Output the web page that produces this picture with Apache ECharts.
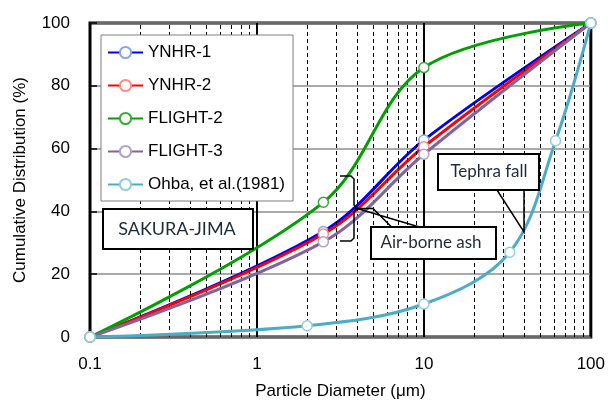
<!DOCTYPE html>
<html>
<head>
<meta charset="utf-8">
<script src="https://cdn.jsdelivr.net/npm/echarts@6/dist/echarts.min.js"></script>
<style>
  html, body { margin: 0; padding: 0; background: #fff; }
  #container { width: 608px; height: 408px; }
</style>
</head>
<body>
<div id="container"></div>
<script>
// 数据
var ynhr1 = [[0.1, 0], [2.5, 33.6], [10, 62.7], [100, 100]];
var ynhr2 = [[0.1, 0], [2.5, 32.8], [10, 60.6], [100, 100]];
var flight2 = [[0.1, 0], [2.5, 42.9], [10, 85.8], [100, 100]];
var flight3 = [[0.1, 0], [2.5, 30.3], [10, 58.2], [100, 100]];
var ohba = [[0.1, 0], [2, 3.6], [10, 10.5], [32.7, 27], [61.5, 62.5], [100, 100]];

var seriesNames = ['YNHR-1', 'YNHR-2', 'FLIGHT-2', 'FLIGHT-3', 'Ohba, et al.(1981)'];
var lineColors = ['#0000ff', '#ff0000', '#00a000', '#8064a2', '#4bacc6'];
var markerColors = ['#8aa8e0', '#ff8c8c', '#3aa83a', '#b3a2c7', '#93cddd'];
var minorTicks = [0.2, 0.3, 0.4, 0.5, 0.6, 0.7, 0.8, 0.9, 2, 3, 4, 5, 6, 7, 8, 9, 20, 30, 40, 50, 60, 70, 80, 90];
var yTicks = [0, 20, 40, 60, 80, 100];

var FONT = '"Liberation Sans", Arial, sans-serif';
var CAL = 'Lato, "Open Sans", sans-serif';

var dom = document.getElementById('container');
var myChart = echarts.init(dom);

function makeSeries(name, data, i) {
    return {
        name: name,
        type: 'line',
        data: data,
        smooth: 0.35,
        symbol: 'circle',
        symbolSize: 10,
        lineStyle: { color: lineColors[i], width: 3 },
        itemStyle: { color: '#fff', borderColor: markerColors[i], borderWidth: 1.5 },
        emphasis: { disabled: true },
        z: 3 + i
    };
}

var option = {
    animation: false,
    backgroundColor: '#fff',
    grid: {
        left: 90, right: 15, top: 23, bottom: 71,
        show: true, borderColor: '#000', borderWidth: 3, backgroundColor: 'transparent'
    },
    legend: {
        data: seriesNames,
        orient: 'vertical',
        left: 101, top: 35,
        padding: [9, 8, 8, 6],
        itemGap: 16,
        itemWidth: 35, itemHeight: 14,
        backgroundColor: '#fff',
        borderColor: '#7f7f7f', borderWidth: 1,
        textStyle: { fontFamily: FONT, fontSize: 17, color: '#000', lineHeight: 17 },
        z: 20
    },
    xAxis: {
        type: 'log',
        logBase: 10,
        min: 0.1, max: 100,
        splitNumber: 3,
        name: 'Particle Diameter (μm)',
        nameLocation: 'middle',
        nameGap: 46,
        nameTextStyle: { fontFamily: FONT, fontSize: 17, color: '#000' },
        axisLine: { show: false },
        axisTick: { show: false },
        axisLabel: { fontFamily: FONT, fontSize: 17, color: '#000', margin: 19,
            formatter: function (v) { return v < 1 ? v.toFixed(1) : String(Math.round(v)); } },
        splitLine: { show: true, lineStyle: { color: '#000', width: 2 } }
    },
    yAxis: {
        type: 'value',
        min: 0, max: 100, interval: 20,
        name: 'Cumulative Distribution (%)',
        nameLocation: 'middle',
        nameGap: 61,
        nameTextStyle: { fontFamily: FONT, fontSize: 17, color: '#000' },
        axisLine: { show: false },
        axisTick: { show: true, inside: true, length: 7, lineStyle: { color: '#000', width: 1.5 } },
        axisLabel: { fontFamily: FONT, fontSize: 17, color: '#000', margin: 20 },
        splitLine: { show: true, lineStyle: { color: '#8c8c8c', width: 1.5 } }
    },
    series: [
        {
            name: 'minor',
            type: 'line',
            data: [],
            silent: true,
            z: 1,
            markLine: {
                silent: true,
                symbol: ['none', 'none'],
                label: { show: false },
                lineStyle: { color: '#000', width: 1, type: [4, 3] },
                emphasis: { disabled: true },
                data: minorTicks.map(function (v) { return { xAxis: v }; })
            }
        },
        makeSeries(seriesNames[0], ynhr1, 0),
        makeSeries(seriesNames[1], ynhr2, 1),
        makeSeries(seriesNames[2], flight2, 2),
        makeSeries(seriesNames[3], flight3, 3),
        makeSeries(seriesNames[4], ohba, 4)
    ],
    graphic: [
        // SAKURA-JIMA
        { type: 'rect', z: 30, shape: { x: 103, y: 209, width: 150, height: 40 },
          style: { fill: '#fff', stroke: '#000', lineWidth: 2 } },
        { type: 'text', z: 31, x: 177, y: 229,
          style: { text: 'SAKURA-JIMA', font: '18px ' + CAL, fill: '#1f2a3a', align: 'center', verticalAlign: 'middle' } },
        // brace
        { type: 'polyline', z: 30,
          shape: { points: [[340, 176], [351, 176], [354, 179], [354, 205], [357, 208.5], [354, 212], [354, 238], [351, 241], [340, 241]] },
          style: { fill: null, stroke: '#000', lineWidth: 1.5 } },
        // Air-borne ash callout
        { type: 'polyline', z: 30,
          shape: { points: [[392, 227.5], [373, 208.5], [357, 208.5], [421, 227.5]] },
          style: { fill: null, stroke: '#000', lineWidth: 1.5 } },
        { type: 'rect', z: 30, shape: { x: 371, y: 227, width: 125, height: 32 },
          style: { fill: '#fff', stroke: '#000', lineWidth: 2 } },
        { type: 'text', z: 31, x: 431, y: 243,
          style: { text: 'Air-borne ash', font: '17px ' + CAL, fill: '#1f2a3a', align: 'center', verticalAlign: 'middle' } },
        // Tephra fall callout
        { type: 'polyline', z: 30,
          shape: { points: [[497, 190], [524, 232], [524, 190]] },
          style: { fill: null, stroke: '#000', lineWidth: 1.5 } },
        { type: 'rect', z: 30, shape: { x: 438, y: 154, width: 101, height: 36 },
          style: { fill: '#fff', stroke: '#000', lineWidth: 2 } },
        { type: 'text', z: 31, x: 489, y: 172,
          style: { text: 'Tephra fall', font: '17px ' + CAL, fill: '#1f2a3a', align: 'center', verticalAlign: 'middle' } }
    ]
};

if (option && typeof option === 'object') {
    myChart.setOption(option, true);
}
</script>
</body>
</html>
